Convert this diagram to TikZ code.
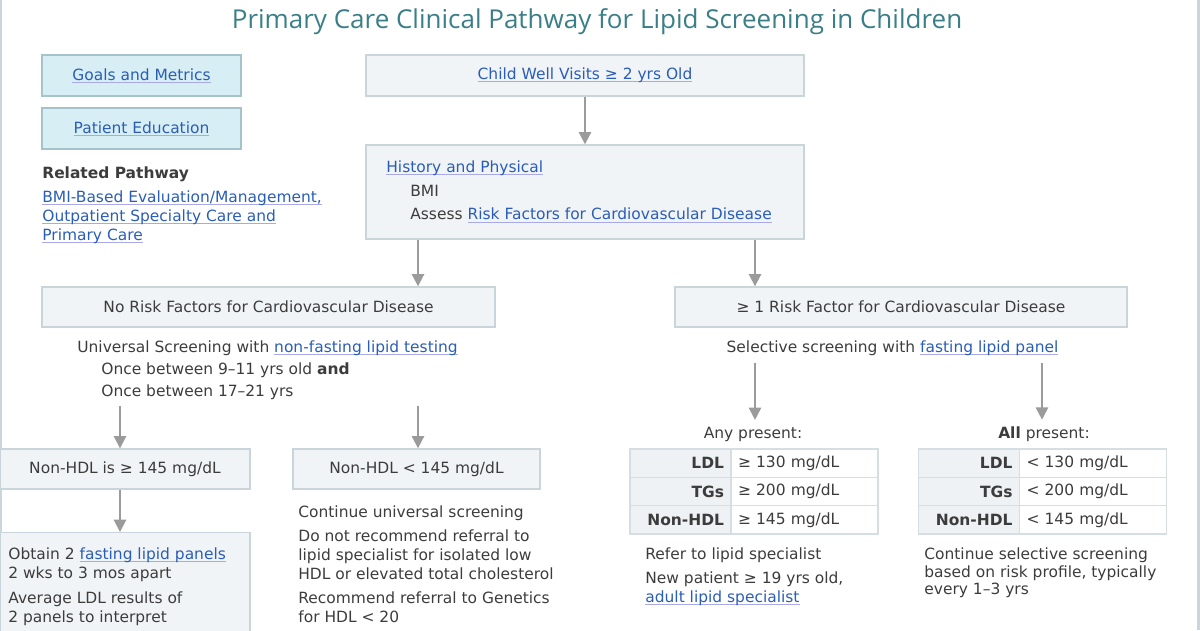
\documentclass[tikz,border=0pt]{standalone}
\usepackage{fontspec}
\setmainfont{DejaVu Sans}
\newfontfamily\titlefont{Open Sans}
\usepackage{tikz}
\usetikzlibrary{calc,matrix,arrows.meta}
\definecolor{titleteal}{HTML}{3A7F88}
\definecolor{linkblue}{HTML}{2A5DB8}
\definecolor{ulblue}{HTML}{A9A9E6}
\definecolor{txtgrey}{HTML}{3C3C3C}
\definecolor{boxline}{HTML}{C9D5DA}
\definecolor{boxfill}{HTML}{F1F4F6}
\definecolor{bluefill}{HTML}{D7EEF4}
\definecolor{blueline}{HTML}{A6C3CB}
\definecolor{arrgrey}{HTML}{9B9B9B}
\definecolor{edgeline}{HTML}{C9D6DB}
\definecolor{tblfill}{HTML}{EEF2F4}
\definecolor{tblline}{HTML}{D5DFE3}
\newcommand{\lnk}[1]{\leavevmode\setbox0\hbox{\textcolor{linkblue}{#1}}\rlap{\textcolor{ulblue}{\rule[-0.3ex]{\wd0}{0.5pt}}}\box0}

\begin{document}
\begin{tikzpicture}[x=0.02cm,y=-0.02cm,
  txt/.style={font=\fontsize{8.8pt}{11pt}\selectfont,text=txtgrey,inner sep=0pt,align=left},
  greybox/.style={txt,draw=boxline,fill=boxfill,line width=0.8pt,minimum height=0.8cm},
  bluebox/.style={greybox,draw=blueline,fill=bluefill,minimum width=3.98cm,minimum height=0.82cm},
  arr/.style={draw=arrgrey,line width=1.1pt,-{Triangle[width=7pt,length=7pt]}},
  cellbox/.style={draw=tblline,line width=0.8pt,anchor=center,minimum height=0.567cm,inner xsep=0.14cm,inner ysep=0pt,font=\fontsize{8.8pt}{11pt}\selectfont,text=txtgrey},
  tbl/.style={matrix of nodes,inner sep=0pt,row sep=-0.8pt,column sep=-0.8pt,nodes={cellbox},
    column 1/.style={nodes={fill=tblfill,text width=1.74cm,align=right,font=\fontsize{8.8pt}{11pt}\selectfont\bfseries}},
    column 2/.style={nodes={fill=white,text width=2.66cm,align=left}}}]
\useasboundingbox (0,0) rectangle (1200,630);
\draw[edgeline,line width=1.2pt] (1,0) -- (1,630);
\draw[edgeline,line width=1.2pt] (1198.5,0) -- (1198.5,630);

\node[font=\titlefont\fontsize{14.8pt}{17pt}\selectfont,text=titleteal] (title) at (597,22) {Primary Care Clinical Pathway for Lipid Screening in Children};

% side links
\node[bluebox] (goals) at (141.5,75.5) {\lnk{Goals and Metrics}};
\node[bluebox] (educ) at (141.5,128.5) {\lnk{Patient Education}};
\node[txt,anchor=west,font=\fontsize{8.8pt}{11pt}\selectfont\bfseries] (relhdr) at (42,174) {Related Pathway};
\node[txt,anchor=north west] (rellinks) at (42,190) {\lnk{BMI-Based Evaluation/Management,}\\\lnk{Outpatient Specialty Care and}\\\lnk{Primary Care}};

% main column
\node[greybox,minimum width=8.76cm,minimum height=0.82cm] (child) at (585,75.5) {\lnk{Child Well Visits ≥ 2 yrs Old}};
\node[greybox,minimum width=8.76cm,minimum height=1.88cm] (hist) at (585,192) {};
\node[txt,anchor=north west] (histtxt) at (386,160) {\lnk{History and Physical}\\[2.6pt]\hspace*{0.48cm}BMI\\[2.6pt]\hspace*{0.48cm}Assess \lnk{Risk Factors for Cardiovascular Disease}};
\node[greybox,minimum width=9.06cm] (norisk) at (268.5,307) {No Risk Factors for Cardiovascular Disease};
\node[greybox,minimum width=9.04cm] (onerisk) at (901,307) {≥ 1 Risk Factor for Cardiovascular Disease};

% no risk factors
\node[txt,anchor=north west] (univ) at (77,340) {Universal Screening with \lnk{non-fasting lipid testing}\\[1.6pt]\hspace*{0.48cm}Once between 9–11 yrs old \textbf{and}\\[1.6pt]\hspace*{0.48cm}Once between 17–21 yrs};
\node[greybox,minimum width=5cm] (nhigh) at (125,469) {Non-HDL is ≥ 145 mg/dL};
\node[greybox,minimum width=4.94cm] (nlow) at (416.5,469) {Non-HDL < 145 mg/dL};
\node[greybox,anchor=north,minimum width=5cm,minimum height=2.4cm] (obtain) at (125,532) {};
\node[txt,anchor=north west] (obtaintxt) at (8,547) {Obtain 2 \lnk{fasting lipid panels}\\2 wks to 3 mos apart\\[3pt]Average LDL results of\\2 panels to interpret};
\node[txt,anchor=north west] (nlowtxt) at (298,505) {Continue universal screening\\[2.6pt]Do not recommend referral to\\lipid specialist for isolated low\\HDL or elevated total cholesterol\\[2.6pt]Recommend referral to Genetics\\for HDL < 20};

% risk factors
\node[txt] (sel) at (892.5,348) {Selective screening with \lnk{fasting lipid panel}};
\node[txt] (any) at (753,434) {Any present:};
\node[txt] (all) at (1044,434) {\textbf{All} present:};
\matrix[tbl] (tabany) at (754,491.5) {LDL & ≥ 130 mg/dL\\ TGs & ≥ 200 mg/dL\\ Non-HDL & ≥ 145 mg/dL\\};
\matrix[tbl] (taball) at (1042.5,491.5) {LDL & < 130 mg/dL\\ TGs & < 200 mg/dL\\ Non-HDL & < 145 mg/dL\\};
\node[txt,anchor=north west] (refer) at (645,547) {Refer to lipid specialist\\[2.6pt]New patient ≥ 19 yrs old,\\\lnk{adult lipid specialist}};
\node[txt,anchor=north west] (contsel) at (924,547) {Continue selective screening\\[-0.8pt]based on risk profile, typically\\[-0.8pt]every 1–3 yrs};

% arrows
\draw[arr] (child) -- (hist);
\draw[arr] (418,0 |- hist.south) -- (418,0 |- norisk.north);
\draw[arr] (755,0 |- hist.south) -- (755,0 |- onerisk.north);
\draw[arr,shorten <=0.12cm] (120,0 |- univ.south) -- (120,0 |- nhigh.north);
\draw[arr,shorten <=0.12cm] (418,0 |- univ.south) -- (418,0 |- nlow.north);
\draw[arr] (120,0 |- nhigh.south) -- (120,0 |- obtain.north);
\draw[arr,shorten <=0.15cm,shorten >=0.13cm] (755,0 |- sel.south) -- (755,0 |- any.north);
\draw[arr,shorten <=0.15cm,shorten >=0.13cm] (1042,0 |- sel.south) -- (1042,0 |- all.north);
\end{tikzpicture}
\end{document}
